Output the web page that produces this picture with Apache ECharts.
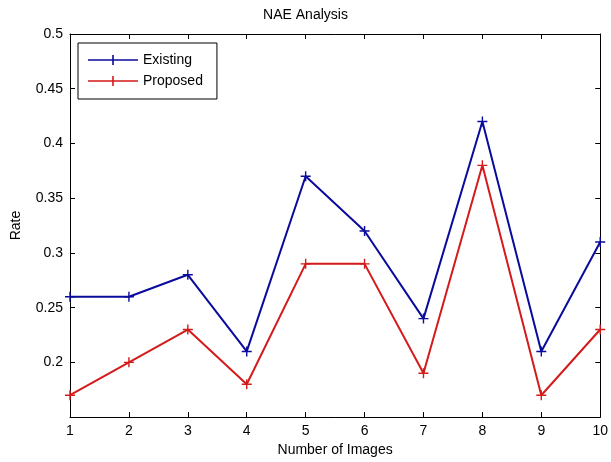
<!DOCTYPE html>
<html><head><meta charset="utf-8">
<script src="https://cdn.jsdelivr.net/npm/echarts@6/dist/echarts.min.js"></script>
<style>html,body{margin:0;padding:0;background:#fff}#c{width:611px;height:462px}</style>
</head><body><div id="c"></div>
<script>
const imagesX = [1,2,3,4,5,6,7,8,9,10];
const existing = [0.26,0.26,0.28,0.21,0.37,0.32,0.24,0.42,0.21,0.31];
const proposed = [0.17,0.20,0.23,0.18,0.29,0.29,0.19,0.38,0.17,0.23];
const seriesNames = ['Existing','Proposed'];
const titleText = 'NAE Analysis';
const xName = 'Number of Images';
const yName = 'Rate';

const FONT = '"Liberation Sans", Arial, sans-serif';
const BLUE = '#0a0a9c';
const RED = '#d41a1a';
const plus = 'path://M4.3,0H5.7V10H4.3Z M0,4.3H10V5.7H0Z';
const legIcon = 'path://M0,4.3H50V5.7H0Z M24.2,0H25.8V10H24.2Z';

const chart = echarts.init(document.getElementById('c'), null, {renderer:'canvas'});
const axisCommon = {
  axisLine:{show:true, onZero:false, lineStyle:{color:'#000', width:1}},
  axisTick:{show:true, inside:true, length:5, lineStyle:{color:'#000'}},
  splitLine:{show:false}
};
chart.setOption({
  animation:false,
  backgroundColor:'#fff',
  title:{text:titleText, left:'center', top:3, textStyle:{fontFamily:FONT, fontSize:14, fontWeight:'normal', color:'#000'}},
  grid:{left:70, right:6, top:34, bottom:42},
  legend:{
    orient:'vertical', left:78, top:43,
    backgroundColor:'#fff', borderColor:'#000', borderWidth:1,
    padding:[10,14,11,10], itemGap:7, itemWidth:50, itemHeight:10,
    textStyle:{fontFamily:FONT, fontSize:14, color:'#000'},
    data:[{name:seriesNames[0], icon:legIcon},{name:seriesNames[1], icon:legIcon}]
  },
  xAxis:[
    Object.assign({type:'value', min:1, max:10, interval:1, position:'bottom',
      name:xName, nameLocation:'middle', nameGap:24,
      nameTextStyle:{fontFamily:FONT, fontSize:14, color:'#000'},
      axisLabel:{fontFamily:FONT, fontSize:14, color:'#000', margin:7}}, axisCommon),
    Object.assign({type:'value', min:1, max:10, interval:1, position:'top',
      axisLabel:{show:false}}, axisCommon)
  ],
  yAxis:[
    Object.assign({type:'value', min:0.15, max:0.5, interval:0.05, position:'left',
      name:yName, nameLocation:'middle', nameGap:47, nameRotate:90,
      nameTextStyle:{fontFamily:FONT, fontSize:14, color:'#000'},
      axisLabel:{fontFamily:FONT, fontSize:14, color:'#000', margin:7, showMinLabel:false,
        formatter:v=>String(+v.toFixed(2))}}, axisCommon),
    Object.assign({type:'value', min:0.15, max:0.5, interval:0.05, position:'right',
      axisLabel:{show:false}}, axisCommon)
  ],
  series:[
    {name:seriesNames[0], type:'line', data:imagesX.map((x,i)=>[x,existing[i]]),
     color:BLUE, lineStyle:{color:BLUE, width:2}, symbol:plus, symbolSize:10,
     itemStyle:{color:BLUE}, showAllSymbol:true, z:3},
    {name:seriesNames[1], type:'line', data:imagesX.map((x,i)=>[x,proposed[i]]),
     color:RED, lineStyle:{color:RED, width:2}, symbol:plus, symbolSize:10,
     itemStyle:{color:RED}, showAllSymbol:true, z:2}
  ]
});
</script></body></html>
